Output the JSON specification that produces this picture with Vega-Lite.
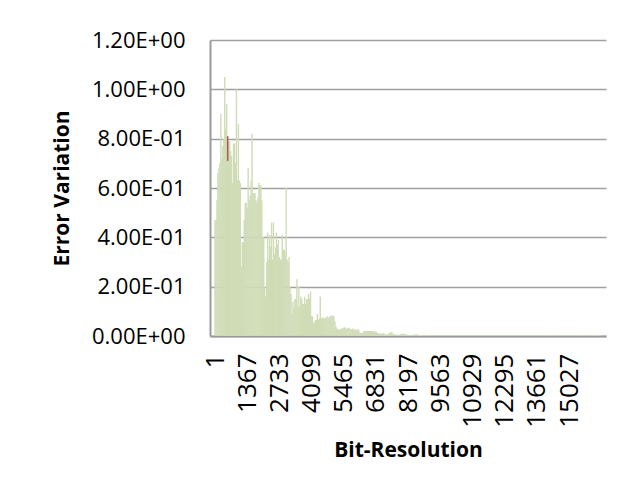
{
  "$schema": "https://vega.github.io/schema/vega-lite/v6.json",
  "width": 396,
  "height": 296,
  "autosize": "none",
  "padding": {"left": 210, "top": 40, "right": 16, "bottom": 154},
  "background": "white",
  "config": {
    "view": {"stroke": null},
    "font": "Open Sans",
    "axis": {"labelFont": "Open Sans", "titleFont": "Open Sans", "labelColor": "#000000", "titleColor": "#000000"}
  },
  "datasets": {
    "err": [
      {"bit": 1, "err": 0.47}, {"bit": 42, "err": 0.47}, {"bit": 84, "err": 0.55}, {"bit": 125, "err": 0.66}, {"bit": 166, "err": 0.68},
      {"bit": 208, "err": 0.70}, {"bit": 249, "err": 0.90}, {"bit": 291, "err": 0.72}, {"bit": 332, "err": 0.77}, {"bit": 373, "err": 0.80},
      {"bit": 415, "err": 1.05}, {"bit": 456, "err": 0.84}, {"bit": 497, "err": 0.94}, {"bit": 539, "err": 0.78}, {"bit": 580, "err": 0.79},
      {"bit": 622, "err": 0.79}, {"bit": 663, "err": 0.75}, {"bit": 704, "err": 0.73}, {"bit": 746, "err": 0.62}, {"bit": 787, "err": 0.78},
      {"bit": 828, "err": 0.78}, {"bit": 870, "err": 0.70}, {"bit": 911, "err": 1.00}, {"bit": 953, "err": 0.63}, {"bit": 994, "err": 0.86},
      {"bit": 1035, "err": 0.63}, {"bit": 1077, "err": 0.62}, {"bit": 1118, "err": 0.28}, {"bit": 1159, "err": 0.38}, {"bit": 1201, "err": 0.38},
      {"bit": 1242, "err": 0.47}, {"bit": 1284, "err": 0.54}, {"bit": 1325, "err": 0.54}, {"bit": 1366, "err": 0.52}, {"bit": 1408, "err": 0.68},
      {"bit": 1449, "err": 0.55}, {"bit": 1490, "err": 0.57}, {"bit": 1532, "err": 0.63}, {"bit": 1573, "err": 0.82}, {"bit": 1615, "err": 0.58},
      {"bit": 1656, "err": 0.58}, {"bit": 1697, "err": 0.58}, {"bit": 1739, "err": 0.55}, {"bit": 1780, "err": 0.54}, {"bit": 1821, "err": 0.56},
      {"bit": 1863, "err": 0.62}, {"bit": 1904, "err": 0.61}, {"bit": 1946, "err": 0.61}, {"bit": 1987, "err": 0.55}, {"bit": 2028, "err": 0.40},
      {"bit": 2070, "err": 0.40}, {"bit": 2111, "err": 0.20}, {"bit": 2152, "err": 0.16}, {"bit": 2194, "err": 0.30}, {"bit": 2235, "err": 0.42},
      {"bit": 2277, "err": 0.31}, {"bit": 2318, "err": 0.41}, {"bit": 2359, "err": 0.36}, {"bit": 2401, "err": 0.46}, {"bit": 2442, "err": 0.31},
      {"bit": 2483, "err": 0.46}, {"bit": 2525, "err": 0.33}, {"bit": 2566, "err": 0.36}, {"bit": 2608, "err": 0.42}, {"bit": 2649, "err": 0.37},
      {"bit": 2690, "err": 0.39}, {"bit": 2732, "err": 0.32}, {"bit": 2773, "err": 0.31}, {"bit": 2814, "err": 0.31}, {"bit": 2856, "err": 0.41},
      {"bit": 2897, "err": 0.35}, {"bit": 2939, "err": 0.35}, {"bit": 2980, "err": 0.34}, {"bit": 3021, "err": 0.60}, {"bit": 3063, "err": 0.31},
      {"bit": 3104, "err": 0.30}, {"bit": 3145, "err": 0.32}, {"bit": 3187, "err": 0.20}, {"bit": 3228, "err": 0.17}, {"bit": 3270, "err": 0.09},
      {"bit": 3311, "err": 0.14}, {"bit": 3352, "err": 0.11}, {"bit": 3394, "err": 0.15}, {"bit": 3435, "err": 0.15}, {"bit": 3476, "err": 0.23},
      {"bit": 3518, "err": 0.12}, {"bit": 3559, "err": 0.20}, {"bit": 3601, "err": 0.12}, {"bit": 3642, "err": 0.16}, {"bit": 3683, "err": 0.15},
      {"bit": 3725, "err": 0.13}, {"bit": 3766, "err": 0.13}, {"bit": 3807, "err": 0.16}, {"bit": 3849, "err": 0.13}, {"bit": 3890, "err": 0.15},
      {"bit": 3932, "err": 0.15}, {"bit": 3973, "err": 0.17}, {"bit": 4014, "err": 0.15}, {"bit": 4056, "err": 0.18}, {"bit": 4097, "err": 0.08},
      {"bit": 4138, "err": 0.08}, {"bit": 4180, "err": 0.05}, {"bit": 4221, "err": 0.055}, {"bit": 4263, "err": 0.065}, {"bit": 4304, "err": 0.065},
      {"bit": 4345, "err": 0.09}, {"bit": 4387, "err": 0.065}, {"bit": 4428, "err": 0.07}, {"bit": 4469, "err": 0.16}, {"bit": 4511, "err": 0.07},
      {"bit": 4552, "err": 0.075}, {"bit": 4594, "err": 0.075}, {"bit": 4635, "err": 0.07}, {"bit": 4676, "err": 0.075}, {"bit": 4718, "err": 0.07},
      {"bit": 4759, "err": 0.08}, {"bit": 4800, "err": 0.075}, {"bit": 4842, "err": 0.075}, {"bit": 4883, "err": 0.08}, {"bit": 4925, "err": 0.08},
      {"bit": 4966, "err": 0.085}, {"bit": 5007, "err": 0.08}, {"bit": 5049, "err": 0.08}, {"bit": 5090, "err": 0.06}, {"bit": 5131, "err": 0.04},
      {"bit": 5173, "err": 0.03}, {"bit": 5256, "err": 0.025}, {"bit": 5338, "err": 0.028}, {"bit": 5421, "err": 0.032}, {"bit": 5504, "err": 0.035},
      {"bit": 5587, "err": 0.03}, {"bit": 5669, "err": 0.033}, {"bit": 5752, "err": 0.028}, {"bit": 5835, "err": 0.03}, {"bit": 5918, "err": 0.027},
      {"bit": 6000, "err": 0.025}, {"bit": 6083, "err": 0.026}, {"bit": 6166, "err": 0.014}, {"bit": 6249, "err": 0.012}, {"bit": 6331, "err": 0.02},
      {"bit": 6414, "err": 0.021}, {"bit": 6497, "err": 0.02}, {"bit": 6580, "err": 0.021}, {"bit": 6662, "err": 0.02}, {"bit": 6745, "err": 0.019},
      {"bit": 6828, "err": 0.018}, {"bit": 6910, "err": 0.012}, {"bit": 6993, "err": 0.01}, {"bit": 7076, "err": 0.01}, {"bit": 7159, "err": 0.011},
      {"bit": 7241, "err": 0.006}, {"bit": 7324, "err": 0.007}, {"bit": 7407, "err": 0.012}, {"bit": 7490, "err": 0.016}, {"bit": 7572, "err": 0.008},
      {"bit": 7655, "err": 0.006}, {"bit": 7738, "err": 0.005}, {"bit": 7821, "err": 0.005}, {"bit": 7903, "err": 0.008}, {"bit": 7986, "err": 0.009},
      {"bit": 8069, "err": 0.008}, {"bit": 8151, "err": 0.005}, {"bit": 8234, "err": 0.004}, {"bit": 8317, "err": 0.004}, {"bit": 8400, "err": 0.004},
      {"bit": 8482, "err": 0.006}, {"bit": 8565, "err": 0.007}, {"bit": 8648, "err": 0.004},
      {"bit": 8731, "err": 0.004}, {"bit": 8896, "err": 0.003}, {"bit": 9062, "err": 0.004}, {"bit": 9227, "err": 0.003}, {"bit": 9393, "err": 0.003},
      {"bit": 9558, "err": 0.004}, {"bit": 9724, "err": 0.003}, {"bit": 9889, "err": 0.003}, {"bit": 10055, "err": 0.003}, {"bit": 10220, "err": 0.004},
      {"bit": 10386, "err": 0.003}, {"bit": 10551, "err": 0.003}, {"bit": 10717, "err": 0.003}, {"bit": 10882, "err": 0.003}, {"bit": 11048, "err": 0.003},
      {"bit": 11213, "err": 0.003}, {"bit": 11379, "err": 0.003}, {"bit": 11544, "err": 0.003}, {"bit": 11710, "err": 0.003}, {"bit": 11875, "err": 0.003},
      {"bit": 12041, "err": 0.003}, {"bit": 12206, "err": 0.003}, {"bit": 12372, "err": 0.003}, {"bit": 12537, "err": 0.003}, {"bit": 12703, "err": 0.003},
      {"bit": 12868, "err": 0.003}, {"bit": 13034, "err": 0.003}, {"bit": 13199, "err": 0.003}, {"bit": 13365, "err": 0.003}, {"bit": 13530, "err": 0.003},
      {"bit": 13696, "err": 0.003}, {"bit": 13861, "err": 0.003}, {"bit": 14027, "err": 0.003}, {"bit": 14192, "err": 0.003}, {"bit": 14358, "err": 0.003},
      {"bit": 14523, "err": 0.003}, {"bit": 14689, "err": 0.003}, {"bit": 14854, "err": 0.003}, {"bit": 15020, "err": 0.003}, {"bit": 15185, "err": 0.003},
      {"bit": 15351, "err": 0.003}, {"bit": 15516, "err": 0.003}, {"bit": 15682, "err": 0.003}, {"bit": 15847, "err": 0.003}, {"bit": 16013, "err": 0.003},
      {"bit": 16178, "err": 0.003}, {"bit": 16302, "err": 0.003}
    ],
    "red": [{"bit": 539, "err": 0.81, "low": 0.71}]
  },
  "data": {"name": "err"},
  "encoding": {
    "x": {
      "field": "bit", "type": "quantitative",
      "scale": {"domain": [1, 16384], "nice": false, "zero": false},
      "axis": {
        "title": "Bit-Resolution", "titleFontSize": 21, "titleFontWeight": "bold", "titlePadding": 12,
        "values": [1, 1367, 2733, 4099, 5465, 6831, 8197, 9563, 10929, 12295, 13661, 15027],
        "format": "d",
        "labelFont": "Open Sans", "labelAngle": -90, "labelFontSize": 26, "labelPadding": 17, "labelFlush": false, "labelOverlap": false,
        "ticks": false, "tickSize": 0, "grid": false,
        "domainColor": "#9a9a9a", "domainWidth": 2
      }
    },
    "y": {
      "field": "err", "type": "quantitative",
      "scale": {"domain": [0, 1.2], "nice": false},
      "axis": {
        "title": "Error  Variation", "titleFontSize": 21, "titleFontWeight": "bold", "titlePadding": 19,
        "values": [0, 0.2, 0.4, 0.6, 0.8, 1.0, 1.2],
        "labelExpr": "datum.value == 0 ? '0.00E+00' : (datum.value >= 1 ? format(datum.value, '.2f') + 'E+00' : format(datum.value * 10, '.2f') + 'E-01')",
        "labelFont": "Open Sans", "labelFontSize": 22, "labelPadding": 25, "ticks": false, "tickSize": 0,
        "grid": true, "gridColor": "#a0a0a0", "gridWidth": 1.5,
        "domainColor": "#9a9a9a", "domainWidth": 2
      }
    }
  },
  "layer": [
    {
      "transform": [{"filter": "datum.bit < 5150"}],
      "mark": {"type": "bar", "color": "#cfdcb6", "width": 1.4}
    },
    {
      "transform": [{"filter": "datum.bit >= 5150 && datum.bit < 8700"}],
      "mark": {"type": "bar", "color": "#cfdcb6", "width": 2.2}
    },
    {
      "transform": [{"filter": "datum.bit >= 8700"}],
      "mark": {"type": "bar", "color": "#cfdcb6", "width": 4.2}
    },
    {
      "data": {"name": "red"},
      "mark": {"type": "bar", "color": "#b0574e", "width": 1.5},
      "encoding": {"y2": {"field": "low"}}
    }
  ]
}
